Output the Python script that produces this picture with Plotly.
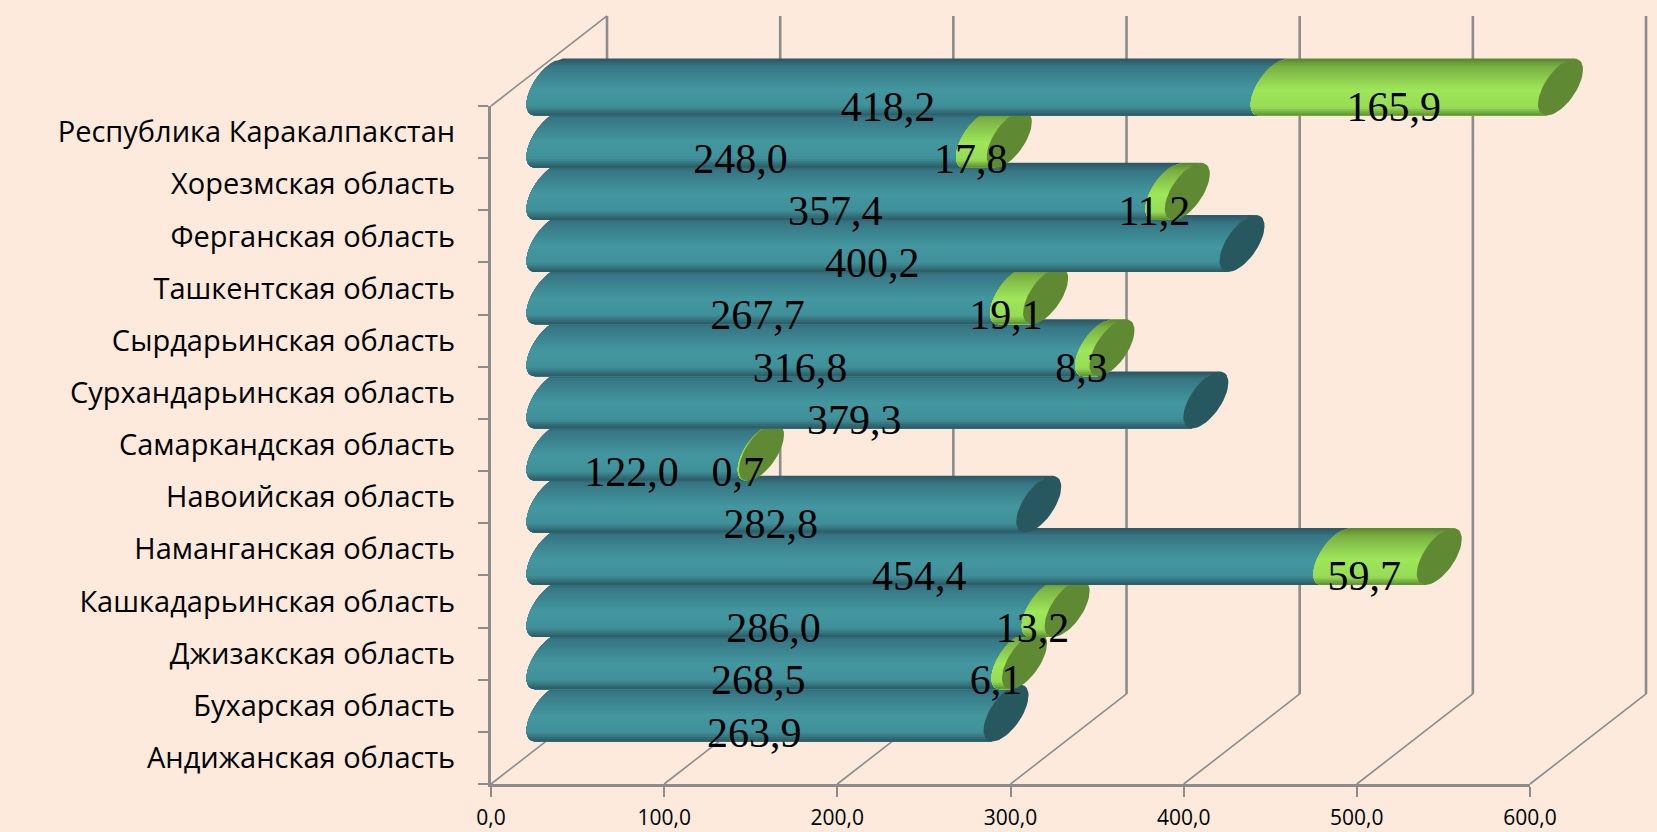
import math
import plotly.graph_objects as go

# Regions listed from the bottom row of the chart to the top row
regions = [
    "Андижанская область", "Бухарская область", "Джизакская область",
    "Кашкадарьинская область", "Наманганская область", "Навоийская область",
    "Самаркандская область", "Сурхандарьинская область", "Сырдарьинская область",
    "Ташкентская область", "Ферганская область", "Хорезмская область",
    "Республика Каракалпакстан",
]
series_a = [263.9, 268.5, 286.0, 454.4, 282.8, 122.0, 379.3, 316.8, 267.7, 400.2, 357.4, 248.0, 418.2]
series_b = [0, 6.1, 13.2, 59.7, 0, 0.7, 0, 8.3, 19.1, 0, 11.2, 17.8, 165.9]
x_ticks = [0, 100, 200, 300, 400, 500, 600]

# Canvas and the front plane of the 3D box, in pixels
WIDTH, HEIGHT = 1657, 832
FRONT_LEFT, FRONT_RIGHT = 491, 1530
FRONT_TOP, FRONT_BOTTOM = 106, 784
PX_PER_X = (FRONT_RIGHT - FRONT_LEFT) / 600
PX_PER_ROW = (FRONT_BOTTOM - FRONT_TOP) / len(regions)

# Oblique projection of the box, in axis units
DEPTH_X = 67.0
DEPTH_Y = 1.726
BAR_DEPTH = 0.5
LABEL_DEPTH = 0.3
LABEL_DROP = 0.1
CAP_A = 13.0
CAP_B = 0.3356
CAP_R = 0.4314
CAP_H = math.hypot(CAP_B, CAP_R)
CAP_T0 = math.atan2(CAP_B, CAP_R)

GRID = "#8c8c8c"
BACKGROUND = "#fdeadc"
TEAL_STOPS = [(0, (44, 84, 96)), (0.14, (55, 118, 132)), (0.55, (67, 151, 160)),
              (0.84, (64, 144, 154)), (1, (42, 88, 98))]
GREEN_STOPS = [(0, (88, 132, 46)), (0.14, (122, 176, 66)), (0.55, (158, 230, 90)),
               (0.86, (150, 220, 86)), (1, (92, 140, 48))]
TEAL_CAP = "#28585f"
GREEN_CAP = "#5f8a33"


def ramp(stops, p):
    for (p0, c0), (p1, c1) in zip(stops, stops[1:]):
        if p <= p1:
            k = (p - p0) / (p1 - p0)
            return "rgb(%d,%d,%d)" % tuple(round(u + (v - u) * k) for u, v in zip(c0, c1))
    return "rgb(%d,%d,%d)" % stops[-1][1]


def front_edge(dy):
    # Horizontal offset of the left half of the end ellipse at height dy
    return CAP_A * math.sin(CAP_T0 - math.acos(max(-1, min(1, dy / CAP_H))))


def body_band(x0, x1, y_c, dy_top, steps=14):
    heights = [dy_top + (-CAP_H - dy_top) * i / steps for i in range(steps + 1)]
    xs = [x0 + front_edge(h) for h in heights] + [x1 + front_edge(h) for h in reversed(heights)]
    ys = [y_c + h for h in heights] + [y_c + h for h in reversed(heights)]
    return xs + xs[:1], ys + ys[:1]


def cap_outline(x_c, y_c, n=48):
    ts = [2 * math.pi * i / n for i in range(n + 1)]
    return ([x_c + CAP_A * math.sin(t) for t in ts],
            [y_c + CAP_R * math.cos(t) + CAP_B * math.sin(t) for t in ts])


def add_poly(fig, xs, ys, color):
    fig.add_trace(go.Scatter(x=xs, y=ys, mode="lines", fill="toself", fillcolor=color,
                             line=dict(width=0, color=color), hoverinfo="skip",
                             showlegend=False))


def add_line(fig, xs, ys, width):
    fig.add_trace(go.Scatter(x=xs, y=ys, mode="lines", line=dict(color=GRID, width=width),
                             hoverinfo="skip", showlegend=False))


def add_cylinder_part(fig, start, end, row, stops, bands=26):
    x0 = start + BAR_DEPTH * DEPTH_X
    x1 = end + BAR_DEPTH * DEPTH_X
    y_c = row + BAR_DEPTH * DEPTH_Y
    for i in range(bands):
        dy_top = CAP_H - 2 * CAP_H * i / bands
        xs, ys = body_band(x0, x1, y_c, dy_top)
        add_poly(fig, xs, ys, ramp(stops, (i + 0.5) / bands))


fig = go.Figure()
y_min, y_max = -0.5, len(regions) - 0.5

# Walls and floor of the 3D box
for tick in x_ticks:
    add_line(fig, [tick, tick + DEPTH_X], [y_min, y_min + DEPTH_Y], 1.6)
    add_line(fig, [tick + DEPTH_X, tick + DEPTH_X], [y_min + DEPTH_Y, y_max + DEPTH_Y], 2.6)
add_line(fig, [0, DEPTH_X], [y_max, y_max + DEPTH_Y], 1.6)

# Cylinders are stacked so that upper rows sit in front of lower ones
for row, (a, b) in enumerate(zip(series_a, series_b)):
    add_cylinder_part(fig, 0, a, row, TEAL_STOPS)
    if b > 0:
        add_cylinder_part(fig, a, a + b, row, GREEN_STOPS)
    cap_x, cap_y = cap_outline(a + b + BAR_DEPTH * DEPTH_X, row + BAR_DEPTH * DEPTH_Y)
    add_poly(fig, cap_x, cap_y, GREEN_CAP if b > 0 else TEAL_CAP)

# Value labels, placed on a plane slightly ahead of the cylinder axis
label_x, label_y, label_text = [], [], []
for row, (a, b) in enumerate(zip(series_a, series_b)):
    label_x.append(a / 2 + LABEL_DEPTH * DEPTH_X)
    label_y.append(row + LABEL_DEPTH * DEPTH_Y - LABEL_DROP)
    label_text.append(f"{a:.1f}".replace(".", ","))
    if b > 0:
        label_x.append(a + b / 2 + LABEL_DEPTH * DEPTH_X)
        label_y.append(row + LABEL_DEPTH * DEPTH_Y - LABEL_DROP)
        label_text.append(f"{b:.1f}".replace(".", ","))
fig.add_trace(go.Scatter(x=label_x, y=label_y, text=label_text, mode="text",
                         xaxis="x2", yaxis="y2", textposition="middle center",
                         textfont=dict(family="Liberation Serif", size=42, color="#000000"),
                         hoverinfo="skip", showlegend=False, cliponaxis=False))

fig.update_layout(
    width=WIDTH, height=HEIGHT,
    margin=dict(l=0, r=0, t=0, b=0, autoexpand=False),
    paper_bgcolor=BACKGROUND, plot_bgcolor="rgba(0,0,0,0)",
    showlegend=False,
    separators=", ",
    # Drawing axes span the whole canvas so the box can extend past the front plane
    xaxis=dict(domain=[0, 1], visible=False, anchor="y",
               range=[-FRONT_LEFT / PX_PER_X, (WIDTH - FRONT_LEFT) / PX_PER_X]),
    yaxis=dict(domain=[0, 1], visible=False, anchor="x",
               range=[y_min - (HEIGHT - FRONT_BOTTOM) / PX_PER_ROW, y_min + FRONT_BOTTOM / PX_PER_ROW]),
    # Visible axes sit on the front plane and carry the ticks and labels
    xaxis2=dict(domain=[FRONT_LEFT / WIDTH, FRONT_RIGHT / WIDTH], anchor="y2",
                range=[0, 600], tickvals=x_ticks, tickformat=".1f", showgrid=False, zeroline=False,
                showline=True, linecolor=GRID, linewidth=3, ticks="outside", ticklen=10,
                tickcolor=GRID, tickwidth=2, ticklabelstandoff=3,
                tickfont=dict(family="Open Sans", size=21, color="#000000")),
    yaxis2=dict(domain=[1 - FRONT_BOTTOM / HEIGHT, 1 - FRONT_TOP / HEIGHT], anchor="x2",
                range=[y_min, y_max], tickvals=list(range(len(regions))), ticktext=regions,
                showgrid=False, zeroline=False, showline=True, linecolor=GRID, linewidth=3,
                ticks="", ticklabelstandoff=27,
                minor=dict(tickvals=[i - 0.5 for i in range(len(regions) + 1)], ticks="outside",
                           ticklen=10, tickcolor=GRID, tickwidth=2, showgrid=False),
                tickfont=dict(family="Open Sans", size=29, color="#000000")),
)

fig.write_html("out.html")
